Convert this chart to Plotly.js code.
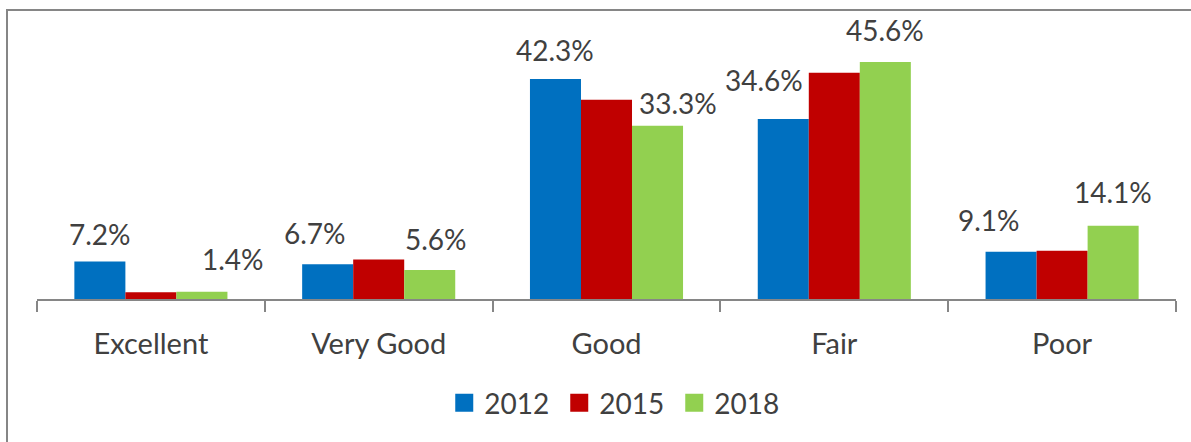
<!DOCTYPE html>
<html>
<head>
<meta charset="utf-8">
<script src="https://cdn.plot.ly/plotly-3.0.1.min.js"></script>
<style>
  html, body { margin: 0; padding: 0; background: #fff; }
  #wrap { position: relative; width: 1191px; height: 442px; overflow: hidden; }
  #frame { position: absolute; left: 6px; top: 9px; width: 1300px; height: 500px;
           border-left: 2px solid #868686; border-top: 2px solid #868686; }
  #chart { position: absolute; left: 0; top: 0; width: 1191px; height: 442px; }
</style>
</head>
<body>
<div id="wrap">
  <div id="frame"></div>
  <div id="chart"></div>
</div>
<script>
// categories and series (percent)
const categories = ['Excellent', 'Very Good', 'Good', 'Fair', 'Poor'];
const years = ['2012', '2015', '2018'];
const values2012 = [7.2, 6.7, 42.3, 34.6, 9.1];
const values2015 = [1.3, 7.6, 38.3, 43.5, 9.3];
const values2018 = [1.4, 5.6, 33.3, 45.6, 14.1];
const colors = ['#0070C0', '#C00000', '#92D050'];

// only 2012 and 2018 carry data labels in the original
const labelled = [true, false, true];
// hand nudges of the labels, like the dragged labels in the source chart (px)
const nudgeX = [[0, -13, 0, -19, -22], null, [31, 6, 20, 0, 0]];
const nudgeY = [[9, 12, 10, 20, 13], null, [14, 12, 4, 13, 15]];

const allValues = [values2012, values2015, values2018];
const textColor = '#404040';
const font = 'Lato, "Open Sans", sans-serif';

const data = years.map((yr, i) => ({
    type: 'bar',
    name: yr,
    x: categories,
    y: allValues[i],
    marker: { color: colors[i] },
    hoverinfo: 'skip'
}));

// bar width in px => offset of each series inside its group
const plotW = 1191 - 37 - 15;
const catW = plotW / categories.length;
const bargap = 0.328;
const barW = catW * (1 - bargap) / years.length;

const annotations = [];
allValues.forEach((vals, i) => {
    if (!labelled[i]) return;
    vals.forEach((v, j) => {
        annotations.push({
            x: categories[j],
            y: v,
            xref: 'x',
            yref: 'y',
            text: v.toFixed(1) + '%',
            showarrow: false,
            yanchor: 'bottom',
            xshift: (i - 1) * barW + nudgeX[i][j],
            yshift: nudgeY[i][j],
            font: { family: font, size: 28, color: textColor }
        });
    });
});

const layout = {
    width: 1191,
    height: 442,
    margin: { l: 37, r: 15, t: 39, b: 143 },
    paper_bgcolor: 'rgba(0,0,0,0)',
    plot_bgcolor: 'rgba(0,0,0,0)',
    barmode: 'group',
    bargap: bargap,
    bargroupgap: 0,
    font: { family: font, color: textColor },
    xaxis: {
        showline: true,
        linecolor: '#868686',
        linewidth: 2,
        ticks: 'outside',
        tickson: 'boundaries',
        ticklen: 11,
        tickwidth: 2,
        tickcolor: '#868686',
        ticklabelstandoff: 18,
        tickfont: { family: font, size: 29, color: textColor },
        showgrid: false,
        zeroline: false,
        fixedrange: true
    },
    yaxis: {
        visible: false,
        range: [0, 50],
        fixedrange: true
    },
    showlegend: true,
    legend: {
        orientation: 'h',
        x: 0.509,
        xanchor: 'center',
        y: -0.40,
        yanchor: 'middle',
        entrywidth: 70,
        font: { family: font, size: 28, color: textColor },
        bgcolor: 'rgba(0,0,0,0)'
    },
    annotations: annotations
};

Plotly.newPlot('chart', data, layout, { displayModeBar: false, staticPlot: true }).then(gd => {
    // Excel draws bigger legend keys than Plotly's 12px squares
    gd.querySelectorAll('.legend .legendpoints path').forEach(p => {
        p.setAttribute('d', 'M9,9H-9V-9H9Z');
    });
});
</script>
</body>
</html>
